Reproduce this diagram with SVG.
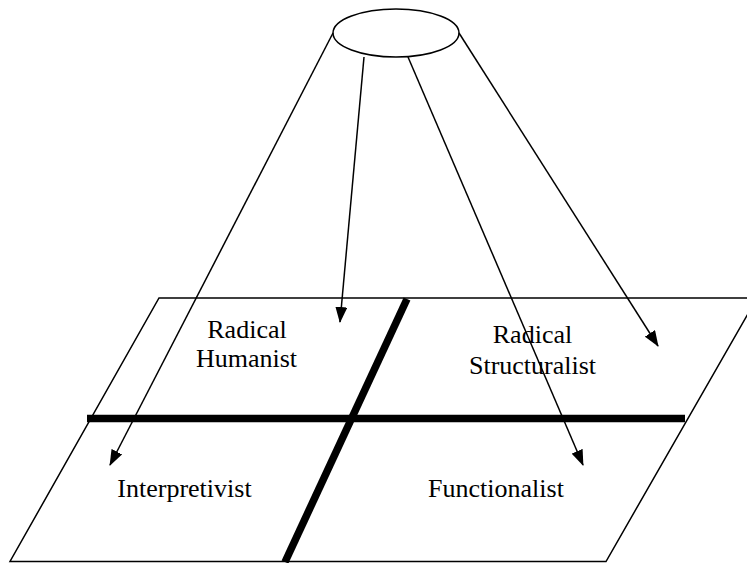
<svg xmlns="http://www.w3.org/2000/svg" width="747" height="563" viewBox="0 0 747 563">
<style>
.thin{fill:none;stroke:#000;stroke-width:1.5}
.bar{fill:none;stroke:#000;stroke-width:7.5}
.lbl{font-family:"Liberation Serif","Times New Roman",serif;font-size:26px;fill:#000;text-anchor:middle}
.arr{fill:none;stroke:#000;stroke-width:1.5;marker-end:url(#ah)}
</style>
<defs>
<marker id="ah" markerWidth="16" markerHeight="12" refX="15" refY="6" orient="auto" markerUnits="userSpaceOnUse">
<path d="M0,0 L16,6 L0,12 Z" fill="#000"/>
</marker>
</defs>
<rect width="747" height="563" fill="#fff"/>
<g id="plane">
<polygon class="thin" points="159,298 757,298 606,561.5 10,561.5"/>
<line class="bar" x1="87" y1="418.5" x2="685" y2="418.5"/>
<line class="bar" x1="407" y1="299" x2="285" y2="562"/>
</g>
<g id="source">
<ellipse class="thin" cx="396" cy="33" rx="63" ry="24"/>
</g>
<g id="connectors">
<line class="arr" x1="333" y1="33" x2="110" y2="465"/>
<line class="arr" x1="364" y1="57" x2="340" y2="322"/>
<line class="arr" x1="408" y1="57" x2="583" y2="465"/>
<line class="arr" x1="459" y1="33" x2="658" y2="346"/>
</g>
<g id="radical-humanist">
<text class="lbl" x="247" y="338">Radical</text>
<text class="lbl" x="246.5" y="367">Humanist</text>
</g>
<g id="radical-structuralist">
<text class="lbl" x="532.5" y="343">Radical</text>
<text class="lbl" x="532.5" y="374">Structuralist</text>
</g>
<g id="interpretivist">
<text class="lbl" x="184.5" y="497">Interpretivist</text>
</g>
<g id="functionalist">
<text class="lbl" x="496" y="497">Functionalist</text>
</g>
</svg>
